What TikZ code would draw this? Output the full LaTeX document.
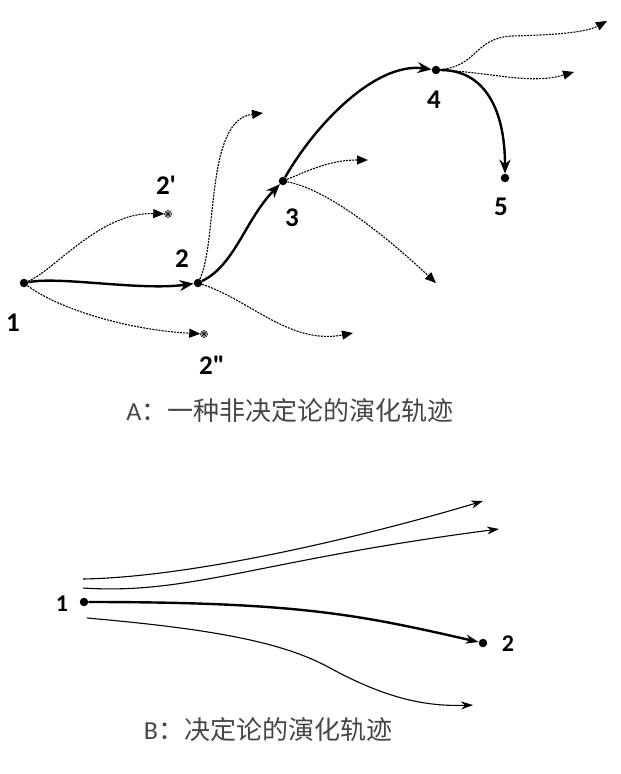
\documentclass[tikz,border=0pt]{standalone}
\usepackage{fontspec}
\setmainfont{Carlito}
\newfontfamily\lblfont{Carlito}[Ligatures=NoCommon]
\newfontfamily\cjk{Noto Sans CJK SC}
\usetikzlibrary{arrows.meta}
\begin{document}
\begin{tikzpicture}[x=1pt,y=-1pt,
  dot/.style={circle,fill=black,inner sep=0pt,minimum size=8.5pt},
  starmark/.style={circle,draw=black,line width=0.5pt,inner sep=0pt,minimum size=7pt,
    path picture={\draw[line width=0.6pt]
      (path picture bounding box.north) -- (path picture bounding box.south)
      (path picture bounding box.west) -- (path picture bounding box.east)
      (path picture bounding box.north west) -- (path picture bounding box.south east)
      (path picture bounding box.north east) -- (path picture bounding box.south west);}},
  lbl/.style={font=\lblfont\fontsize{27}{30}\selectfont\bfseries,inner sep=0pt},
  lblb/.style={font=\lblfont\fontsize{24}{27}\selectfont\bfseries,inner sep=0pt},
  caption/.style={font=\fontsize{26}{30}\selectfont,text=black!72,inner sep=0pt},
  main/.style={line width=2.4pt,-{Stealth[length=14pt,width=11pt]}},
  alt/.style={line width=1.1pt,dash pattern=on 2pt off 1.1pt,-{Triangle[length=11pt,width=9pt]}},
  thin/.style={line width=1.1pt,-{Stealth[length=12pt,width=8pt]}},
  thick/.style={line width=2.4pt,-{Stealth[length=13pt,width=9pt]}}
]
\useasboundingbox (0,0) rectangle (621,774);
% ---------- A ----------
\node[dot] (p1) at (24,283) {};
\node[dot] (p2) at (198,283) {};
\node[dot] (p3) at (283,181) {};
\node[dot] (p4) at (436,70) {};
\node[dot] (p5) at (505,178) {};
\node[starmark] (s1) at (168,214) {};
\node[starmark] (s2) at (204,334) {};
\coordinate (e2u) at (263,113);
\coordinate (e2d) at (353,333);
\coordinate (e3u) at (368,160);
\coordinate (e3d) at (436,283);
\coordinate (m4u) at (512,36);
\coordinate (e4u) at (607,21);
\coordinate (e4d) at (574,72);

\node[lbl] (l1) at (13,323) {1};
\node[lbl] (l2) at (182,259) {2};
\node[lbl] (l2a) at (166,185) {2'};
\node[lbl] (l2b) at (212,365) {2"};
\node[lbl] (l3) at (292,218) {3};
\node[lbl] (l4) at (434,100) {4};
\node[lbl] (l5) at (501,207) {5};

\draw[main] (p1) .. controls (60,276) and (140,291) .. (p2);
\draw[main] (p2) .. controls (235,265) and (245,220) .. (p3);
\draw[main] (p3) .. controls (315,125) and (375,62) .. (p4);
\draw[main] (p4) .. controls (485,70) and (505,110) .. (p5);

\draw[alt] (p1) .. controls (55,270) and (100,212) .. (s1);
\draw[alt] (p1) .. controls (60,310) and (130,330) .. (s2);
\draw[alt] (p2) .. controls (218,240) and (205,120) .. (e2u);
\draw[alt] (p2) .. controls (250,300) and (290,345) .. (e2d);
\draw[alt] (p3) .. controls (310,170) and (330,160) .. (e3u);
\draw[alt] (p3) .. controls (330,190) and (390,240) .. (e3d);
\draw[alt] (p4) .. controls (478,66) and (474,38) .. (m4u) .. controls (550,35) and (585,33) .. (e4u);
\draw[alt] (p4) .. controls (490,72) and (530,85) .. (e4d);

\node[caption] (capA) at (290,411) {A{\cjk ：一种非决定论的演化轨迹}};

% ---------- B ----------
\node[dot] (q1) at (84,602) {};
\node[dot] (q2) at (483,643) {};
\node[lblb] (m1) at (62,604) {1};
\node[lblb] (m2) at (508,644) {2};
\coordinate (u1s) at (83,579);
\coordinate (u1e) at (483,501);
\coordinate (u2s) at (83,588);
\coordinate (u2e) at (499,529);
\coordinate (dls) at (87,618);
\coordinate (dlm) at (330,668);
\coordinate (dle) at (473,705);

\draw[thick] (q1) .. controls (300,602) and (360,615) .. (q2);
\draw[thin] (u1s) .. controls (200,577) and (380,532) .. (u1e);
\draw[thin] (u2s) .. controls (190,595) and (260,560) .. (u2e);
\draw[thin] (dls) .. controls (200,628) and (280,640) .. (dlm) .. controls (380,695) and (420,707) .. (dle);

\node[caption] (capB) at (268,730) {B{\cjk ：决定论的演化轨迹}};
\end{tikzpicture}
\end{document}
